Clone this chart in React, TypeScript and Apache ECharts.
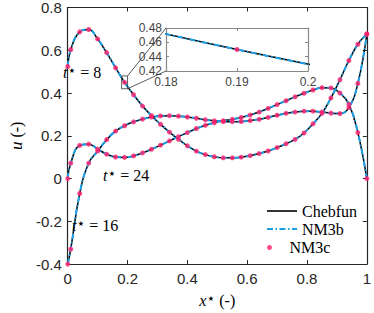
import React, { useEffect, useRef } from "react";
import * as echarts from "echarts";

// Sample positions (x*) of the NM3c points
const xGrid = [
  0, 0.01, 0.04, 0.07, 0.1, 0.13, 0.16, 0.19, 0.22, 0.25, 0.28, 0.31, 0.34, 0.37,
  0.4, 0.43, 0.46, 0.49, 0.52, 0.55, 0.58, 0.61, 0.64, 0.67, 0.7, 0.73, 0.76,
  0.79, 0.82, 0.85, 0.88, 0.91, 0.94, 0.97, 1.0,
];
// u at t* = 8
const uT8 = [
  0.524, 0.603, 0.686, 0.697, 0.653, 0.589, 0.518, 0.45, 0.392, 0.339, 0.294,
  0.254, 0.217, 0.184, 0.153, 0.128, 0.112, 0.102, 0.097, 0.097, 0.1, 0.107,
  0.117, 0.129, 0.145, 0.163, 0.183, 0.213, 0.256, 0.305, 0.377, 0.462, 0.552,
  0.628, 0.676,
];
// u at t* = 16
const uT16 = [
  -0.4, -0.33, -0.07, 0.072, 0.128, 0.182, 0.222, 0.247, 0.265, 0.278, 0.288,
  0.293, 0.294, 0.292, 0.288, 0.282, 0.275, 0.27, 0.267, 0.266, 0.267, 0.271,
  0.277, 0.286, 0.296, 0.305, 0.311, 0.315, 0.315, 0.311, 0.306, 0.304, 0.332,
  0.445, 0.676,
];
// u at t* = 24
const uT24 = [
  0.0, 0.072, 0.155, 0.161, 0.138, 0.114, 0.101, 0.099, 0.106, 0.12, 0.137,
  0.156, 0.176, 0.196, 0.215, 0.234, 0.249, 0.261, 0.27, 0.277, 0.286, 0.297,
  0.311, 0.328, 0.346, 0.364, 0.382, 0.399, 0.414, 0.425, 0.424, 0.4, 0.348,
  0.215, 0.0,
];

const mainXRange = [0, 1];
const mainYRange = [-0.4, 0.8];
const mainXStep = 0.2;
const mainYStep = 0.2;
const insetXRange = [0.18, 0.2];
const insetYRange = [0.42, 0.48];
const insetXStep = 0.01;
const insetYStep = 0.02;
const curveLabels = ["8", "16", "24"];
const legendNames = ["Chebfun", "NM3b", "NM3c"];

const BLACK = "#000000";
const BLUE = "#1ea0e6";
const PINK = "#ff1f6c";
const AXIS = "#262626";
const SANS = "Liberation Sans";
const SERIF = "Liberation Serif";

// legend icon shapes (solid bar, dash-dot bar)
const ICON_SOLID = "path://M0,0H30V1.6H0Z";
const ICON_DASHDOT =
  "path://M0,0H6V2H0Z M8.5,0H10V2H8.5Z M12.5,0H18.5V2H12.5Z M21,0H22.5V2H21Z M25,0H30V2H25Z";

const pts = (u: number[]) => xGrid.map((x, i) => [x, u[i]]);
const fmt = (v: number) => String(Math.round(v * 1000) / 1000);

export default function App() {
  const ref = useRef<HTMLDivElement>(null);
  useEffect(() => {
    document.body.style.margin = "0";
    const chart = echarts.init(ref.current!, undefined, { renderer: "svg" });

    const series: any[] = [];
    const addCurve = (u: number[], ai: number) => {
      series.push({
        type: "line", name: legendNames[0], data: pts(u), xAxisIndex: ai, yAxisIndex: ai,
        smooth: 0.45, symbol: "none", silent: true, z: 2,
        lineStyle: { color: BLACK, width: 1.5 }, itemStyle: { color: BLACK },
      });
    };
    const addBlue = (u: number[], ai: number) => {
      series.push({
        type: "line", name: legendNames[1], data: pts(u), xAxisIndex: ai, yAxisIndex: ai,
        smooth: 0.45, symbol: "none", silent: true, z: 3,
        lineStyle: { color: BLUE, width: 2, type: [6, 2.5, 1.5, 2.5] }, itemStyle: { color: BLUE },
      });
    };
    const addDots = (u: number[], ai: number) => {
      series.push({
        type: "scatter", name: legendNames[2], data: pts(u), xAxisIndex: ai, yAxisIndex: ai,
        symbol: "circle", symbolSize: 5, silent: true, z: 4,
        itemStyle: { color: PINK },
      });
    };
    [uT8, uT16, uT24].forEach((u) => addCurve(u, 0));
    [uT8, uT16, uT24].forEach((u) => addBlue(u, 0));
    [uT8, uT16, uT24].forEach((u) => addDots(u, 0));
    addCurve(uT8, 2);
    addBlue(uT8, 2);
    addDots(uT8, 2);
    // zoom box on main axes
    series.push({
      type: "line", name: "zoom", xAxisIndex: 0, yAxisIndex: 0, symbol: "none", silent: true, z: 5,
      data: [
        [insetXRange[0], insetYRange[0]], [insetXRange[0], insetYRange[1]],
        [insetXRange[1], insetYRange[1]], [insetXRange[1], insetYRange[0]],
        [insetXRange[0], insetYRange[0]],
      ],
      lineStyle: { color: "#333", width: 0.8 },
    });

    const axisCommon = (color: string, tickLen: number) => ({
      axisLine: { onZero: false, lineStyle: { color, width: 1.2 } },
      axisTick: { inside: true, length: tickLen, lineStyle: { color, width: 1 } },
      splitLine: { show: false },
    });

    const mainX = { type: "value", gridIndex: 0, min: mainXRange[0], max: mainXRange[1], interval: mainXStep };
    const mainY = { type: "value", gridIndex: 0, min: mainYRange[0], max: mainYRange[1], interval: mainYStep };
    const insX = { type: "value", gridIndex: 1, min: insetXRange[0], max: insetXRange[1], interval: insetXStep };
    const insY = { type: "value", gridIndex: 1, min: insetYRange[0], max: insetYRange[1], interval: insetYStep };

    const legendBase = (item: any, top: number, h: number) => ({
      data: [item], left: 267, top, orient: "vertical", padding: 0, itemWidth: 30, itemHeight: h,
      selectedMode: false,
      textStyle: { fontFamily: SERIF, fontSize: 16, color: "#000" },
    });

    const starStyle = { fontFamily: "DejaVu Sans", fontSize: 14, verticalAlign: "top", lineHeight: 14 };
    const richT = {
      i: { fontFamily: SERIF, fontStyle: "italic", fontSize: 16, fill: "#000", lineHeight: 18 },
      s: { ...starStyle, fill: "#000" },
      n: { fontFamily: SERIF, fontSize: 16, fill: "#000", lineHeight: 18 },
    };
    const annot = (label: string, x: number, y: number) => ({
      type: "text", x, y, silent: true, z: 10,
      style: { text: `{i|t}{s|⋆}{n| = ${label}}`, rich: richT, align: "left", verticalAlign: "middle" },
    });

    chart.setOption({
      animation: false,
      backgroundColor: "#fff",
      grid: [
        { left: 56, top: 6, width: 314, height: 264 },
        { left: 166, top: 28, width: 142, height: 43, show: true, backgroundColor: "#fff", borderWidth: 0 },
      ],
      xAxis: [
        {
          ...mainX, position: "bottom", ...axisCommon(AXIS, 4),
          axisLabel: { margin: 7, color: AXIS, fontFamily: SANS, fontSize: 15, formatter: fmt },
          name: "{i|x}{s|⋆} (-)", nameLocation: "middle", nameGap: 22,
          nameTextStyle: {
            fontFamily: SERIF, fontSize: 16, color: "#000",
            rich: {
              i: { fontFamily: SERIF, fontStyle: "italic", fontSize: 16, color: "#000", lineHeight: 18 },
              s: { ...starStyle, color: "#000" },
            },
          },
        },
        { ...mainX, position: "top", ...axisCommon(AXIS, 4), axisLabel: { show: false } },
        {
          ...insX, position: "bottom", ...axisCommon("#888", 3),
          axisLabel: { margin: 5, color: "#444", fontFamily: SANS, fontSize: 12, formatter: fmt },
        },
        { ...insX, position: "top", ...axisCommon("#888", 3), axisLabel: { show: false } },
      ],
      yAxis: [
        {
          ...mainY, position: "left", ...axisCommon(AXIS, 4),
          axisLabel: { margin: 6, color: AXIS, fontFamily: SANS, fontSize: 15, formatter: fmt },
          name: "{i|u} (-)", nameLocation: "middle", nameRotate: 90, nameGap: 30,
          nameTextStyle: {
            fontFamily: SERIF, fontSize: 16, color: "#000",
            rich: { i: { fontFamily: SERIF, fontStyle: "italic", fontSize: 17, color: "#000" } },
          },
        },
        { ...mainY, position: "right", ...axisCommon(AXIS, 4), axisLabel: { show: false } },
        {
          ...insY, position: "left", ...axisCommon("#888", 3),
          axisLabel: { margin: 4, color: "#444", fontFamily: SANS, fontSize: 12, formatter: fmt },
        },
        { ...insY, position: "right", ...axisCommon("#888", 3), axisLabel: { show: false } },
      ],
      legend: [
        legendBase({ name: legendNames[0], icon: ICON_SOLID }, 203, 14),
        legendBase({ name: legendNames[1], icon: ICON_DASHDOT }, 221, 14),
        legendBase({ name: legendNames[2], icon: "circle" }, 239.5, 5),
      ],
      series,
      graphic: [
        annot(curveLabels[0], 63, 72),
        annot(curveLabels[1], 72, 225),
        annot(curveLabels[2], 103, 175),
      ],
    });

    const a = chart.convertToPixel({ xAxisIndex: 0, yAxisIndex: 0 }, [insetXRange[1], insetYRange[1]]) as number[];
    const b = chart.convertToPixel({ xAxisIndex: 2, yAxisIndex: 2 }, [insetXRange[0], insetYRange[1]]) as number[];
    const c = chart.convertToPixel({ xAxisIndex: 0, yAxisIndex: 0 }, [insetXRange[1], insetYRange[0]]) as number[];
    const d = chart.convertToPixel({ xAxisIndex: 2, yAxisIndex: 2 }, [insetXRange[0], insetYRange[0]]) as number[];
    chart.setOption({
      graphic: [
        annot(curveLabels[0], 63, 72),
        annot(curveLabels[1], 72, 225),
        annot(curveLabels[2], 103, 175),
        { type: "line", silent: true, z: 6, shape: { x1: a[0], y1: a[1], x2: b[0], y2: b[1] }, style: { stroke: "#333", lineWidth: 0.8 } },
        { type: "line", silent: true, z: 6, shape: { x1: c[0], y1: c[1], x2: d[0], y2: d[1] }, style: { stroke: "#333", lineWidth: 0.8 } },
      ],
    });

    return () => chart.dispose();
  }, []);

  return <div ref={ref} style={{ position: "fixed", left: 0, top: 0, width: 374, height: 313 }} />;
}
